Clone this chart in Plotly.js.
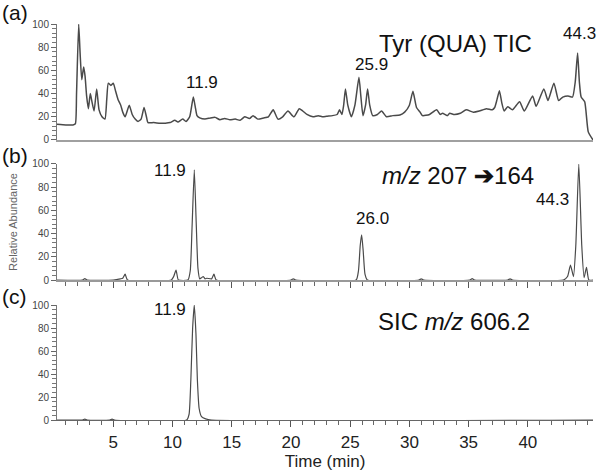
<!DOCTYPE html>
<html>
<head>
<meta charset="utf-8">
<script src="https://cdn.plot.ly/plotly-3.0.1.min.js"></script>
<style>
  html, body { margin: 0; padding: 0; background: #fff; }
  #chart { width: 600px; height: 473px; }
</style>
</head>
<body>
<div id="chart"></div>
<script>
// (a) Tyr (QUA) total ion chromatogram, time in min / relative abundance
const timeA = [0.25, 1.0, 1.6, 1.8, 1.9, 2.08, 2.2, 2.34, 2.5, 2.62, 2.75, 2.9, 3.06, 3.2, 3.38, 3.6, 3.8, 4.05, 4.3, 4.45,
  4.58, 4.8, 5.0, 5.2, 5.4, 5.63, 5.8, 6.0, 6.35, 6.6, 6.85, 7.09, 7.35, 7.6, 7.8, 7.93, 8.4, 8.95, 9.4, 9.8,
  10.2, 10.46, 10.86, 11.14, 11.45, 11.6, 11.76, 11.95, 12.07, 12.3, 12.74, 13.2, 13.6, 14.0, 14.4, 14.85, 15.3, 15.7, 16.1, 16.5,
  16.8, 17.2, 17.7, 18.1, 18.5, 18.9, 19.3, 19.75, 20.25, 20.7, 21.0, 21.35, 21.86, 22.3, 22.7, 23.0, 23.5, 23.9, 24.1, 24.3,
  24.45, 24.6, 24.8, 25.1, 25.4, 25.74, 25.9, 26.08, 26.3, 26.47, 26.65, 26.9, 27.3, 27.65, 28.07, 28.6, 29.2, 29.6, 30.0, 30.3,
  30.6, 30.9, 31.1, 31.7, 32.3, 32.6, 32.8, 33.2, 33.4, 33.8, 34.3, 34.8, 35.4, 35.9, 36.5, 37.0, 37.2, 37.4, 37.6, 37.8,
  38.0, 38.3, 38.7, 39.3, 39.7, 40.4, 40.7, 41.35, 41.7, 42.2, 42.6, 42.95, 43.4, 43.77, 44.0, 44.2, 44.35, 44.5, 44.8, 45.1, 45.5];
const abundA = [13.5, 13, 13, 14, 40, 100, 75, 52, 63, 55, 38, 27, 40, 33, 25, 44, 26, 20, 18, 35,
  49, 47, 49, 42, 35, 30, 24, 20, 30, 22, 18, 16, 18, 28, 20, 15, 15, 14.5, 14.5, 15,
  17, 15.5, 18, 16, 20, 28, 37, 27, 21, 19, 18, 19, 19.5, 17.5, 18.5, 17.5, 18, 17, 20, 18.5,
  21, 18, 19, 20, 26, 18, 20, 25, 20, 27, 25, 22, 20, 21, 20, 20.5, 21, 22, 26, 22,
  30, 44, 30, 20, 30, 54, 38, 21, 30, 44, 30, 21, 22, 25, 20, 21, 21.5, 24, 30, 42,
  28, 24, 21, 22, 26, 22, 23, 21, 23, 22, 23, 26, 24, 25, 27, 26, 28, 35, 42.5, 32,
  25, 28.7, 26, 33, 25, 38, 29, 44, 34, 49, 34, 37, 38, 37, 50, 75, 50, 37, 33, 7, 0];

// (b) m/z 207 -> 164
const timeB = [0.25, 2.4, 2.6, 2.8, 5.0, 5.6, 5.8, 6.0, 6.2, 9.9, 10.1, 10.3, 10.5, 11.3, 11.5, 11.65, 11.84, 12.0, 12.15, 12.3,
  12.45, 12.6, 12.75, 12.9, 13.3, 13.5, 13.7, 20.0, 20.2, 20.4, 25.5, 25.7, 25.85, 25.97, 26.1, 26.25, 26.45, 30.8, 31.0, 31.2,
  35.1, 35.3, 35.5, 38.3, 38.5, 38.7, 43.0, 43.35, 43.6, 43.85, 44.05, 44.3, 44.55, 44.75, 44.95, 45.15, 45.5];
const abundB = [0, 0, 1.2, 0, 0, 1, 1.5, 5, 0, 0, 3, 8.6, 0, 0, 8, 45, 95, 50, 10, 1,
  2, 3, 1, 1.5, 1, 5, 0, 0, 1, 0, 0, 8, 30, 39, 25, 5, 0, 0, 1, 0,
  0, 1.2, 0, 0, 1, 0, 0, 3, 12.9, 3, 30, 100, 30, 2, 11, 0, 0];

// (c) SIC m/z 606.2
const timeC = [0.25, 2.4, 2.6, 2.8, 4.7, 4.9, 5.1, 11.2, 11.4, 11.55, 11.7, 11.84, 11.98, 12.1, 12.25, 12.45, 12.8, 13.3, 45.5];
const abundC = [0, 0, 0.8, 0, 0, 0.7, 0, 0, 5, 35, 80, 100, 75, 35, 10, 3, 1, 0, 0];

const timeTicks = [5, 10, 15, 20, 25, 30, 35, 40];

const FONT = 'Liberation Sans, Arial, Helvetica, sans-serif';

const line = (x, y, xa, ya, w) => ({
  type: 'scatter', mode: 'lines', x, y, xaxis: xa, yaxis: ya,
  line: { color: '#4a4a4a', width: w, shape: 'spline', smoothing: 0.5 },
  hoverinfo: 'x+y', showlegend: false
});

const data = [
  line(timeA, abundA, 'x3', 'y3', 1.5),
  line(timeB, abundB, 'x2', 'y2', 1.2),
  line(timeC, abundC, 'x', 'y', 1.2)
];

const yBase = {
  range: [0, 100], dtick: 20, tick0: 0,
  ticks: 'outside', ticklen: 5, tickcolor: '#666', tickwidth: 1,
  minor: { dtick: 4, ticks: 'outside', ticklen: 4, tickcolor: '#777' },
  showline: true, linecolor: '#777', linewidth: 1,
  showgrid: false, zeroline: false,
  tickfont: { family: FONT, size: 10, color: '#444' },
  fixedrange: true
};

const xBase = {
  range: [0.25, 45.5],
  tickvals: timeTicks,
  showline: true, showgrid: false, zeroline: false,
  fixedrange: true
};

const layout = {
  width: 600, height: 473,
  margin: { l: 57, r: 7, t: 24, b: 53 },
  paper_bgcolor: '#fff', plot_bgcolor: '#fff',
  font: { family: FONT, color: '#111' },
  xaxis: Object.assign({}, xBase, {
    anchor: 'y', domain: [0, 1],
    ticks: 'outside', ticklen: 6, tickcolor: '#555',
    minor: { dtick: 1, tick0: 0, ticks: 'outside', ticklen: 4, tickcolor: '#666' },
    linecolor: '#666', linewidth: 1.3,
    tickfont: { family: FONT, size: 17, color: '#222' },
    title: { text: 'Time (min)', font: { family: FONT, size: 17, color: '#222' }, standoff: 4 }
  }),
  yaxis: Object.assign({}, yBase, { anchor: 'x', domain: [0, 0.2904] }),
  xaxis2: Object.assign({}, xBase, {
    anchor: 'y2', domain: [0, 1], showticklabels: false,
    ticks: 'outside', ticklen: 6, tickcolor: '#555',
    minor: { dtick: 1, tick0: 0, ticks: 'outside', ticklen: 4, tickcolor: '#666' },
    linecolor: '#999', linewidth: 2
  }),
  yaxis2: Object.assign({}, yBase, {
    anchor: 'x2', domain: [0.3535, 0.6465],
    title: { text: 'Relative Abundance', font: { family: FONT, size: 11, color: '#666' }, standoff: 12 }
  }),
  xaxis3: Object.assign({}, xBase, {
    anchor: 'y3', domain: [0, 1], showticklabels: false, ticks: '',
    linecolor: '#a0a0a0', linewidth: 2.5
  }),
  yaxis3: Object.assign({}, yBase, { anchor: 'x3', domain: [0.7071, 1] }),
  annotations: [
    // panel letters
    { xref: 'paper', yref: 'paper', x: -0.1063, y: 1.03, xanchor: 'left', yanchor: 'middle', text: '(a)', showarrow: false, font: { size: 21 } },
    { xref: 'paper', yref: 'paper', x: -0.1063, y: 0.669, xanchor: 'left', yanchor: 'middle', text: '(b)', showarrow: false, font: { size: 21 } },
    { xref: 'paper', yref: 'paper', x: -0.1063, y: 0.313, xanchor: 'left', yanchor: 'middle', text: '(c)', showarrow: false, font: { size: 21 } },
    // trace names
    { xref: 'x3', yref: 'y3', x: 33.9, y: 83.6, text: 'Tyr (QUA) TIC', showarrow: false, font: { size: 24 } },
    { xref: 'x2', yref: 'y2', x: 34.1, y: 89.7, text: '<i>m/z</i> 207 <b>➔</b>164', showarrow: false, font: { size: 24 } },
    { xref: 'x', yref: 'y', x: 33.8, y: 85.7, text: 'SIC <i>m/z</i> 606.2', showarrow: false, font: { size: 24 } },
    // peak labels
    { xref: 'x3', yref: 'y3', x: 12.53, y: 49.6, text: '11.9', showarrow: false, font: { size: 17 } },
    { xref: 'x3', yref: 'y3', x: 26.8, y: 65, text: '25.9', showarrow: false, font: { size: 17 } },
    { xref: 'x3', yref: 'y3', x: 44.35, y: 91.5, text: '44.3', showarrow: false, font: { size: 17 } },
    { xref: 'x2', yref: 'y2', x: 9.8, y: 94, text: '11.9', showarrow: false, font: { size: 17 } },
    { xref: 'x2', yref: 'y2', x: 26.9, y: 53.2, text: '26.0', showarrow: false, font: { size: 17 } },
    { xref: 'x2', yref: 'y2', x: 42.1, y: 69, text: '44.3', showarrow: false, font: { size: 17 } },
    { xref: 'x', yref: 'y', x: 9.75, y: 95.7, text: '11.9', showarrow: false, font: { size: 17 } }
  ]
};

Plotly.newPlot('chart', data, layout, { displayModeBar: false, staticPlot: true });
</script>
</body>
</html>
